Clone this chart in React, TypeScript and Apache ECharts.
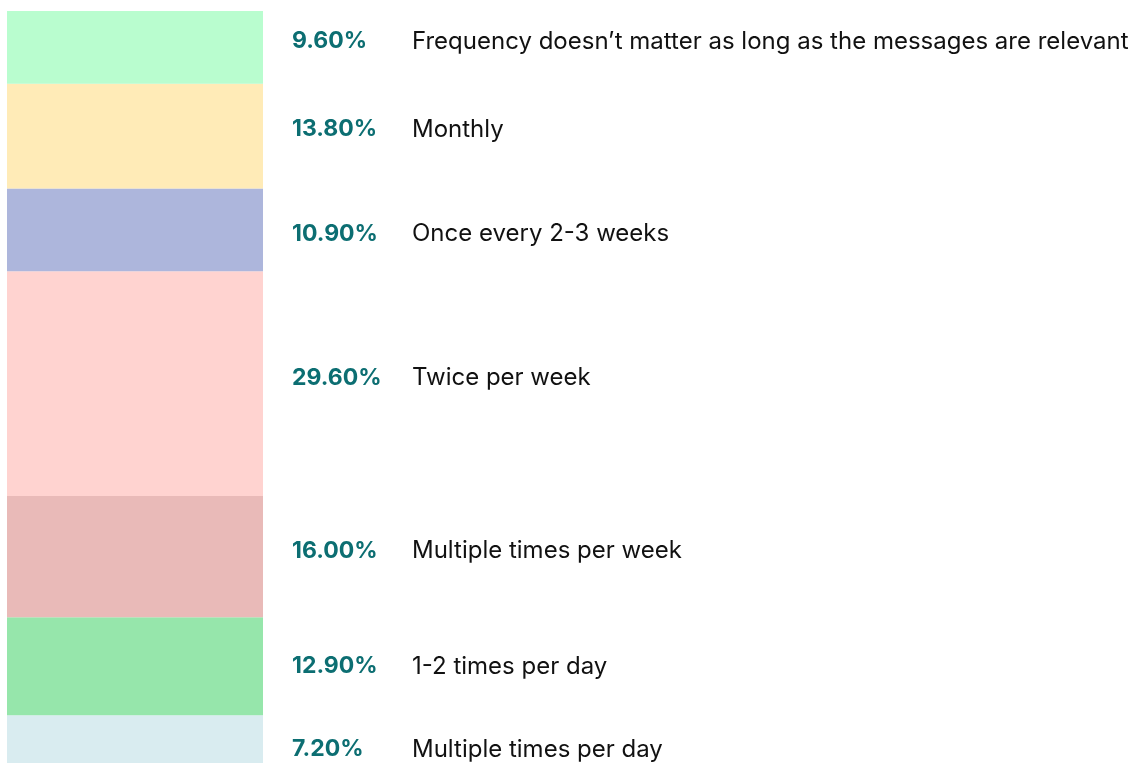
import React, { useEffect, useRef } from "react";
import * as echarts from "echarts";

// bottom to top
const categories = [
  "Multiple times per day",
  "1-2 times per day",
  "Multiple times per week",
  "Twice per week",
  "Once every 2-3 weeks",
  "Monthly",
  "Frequency doesn\u2019t matter as long as the messages are relevant",
];
const values = [7.2, 12.9, 16.0, 29.6, 10.9, 13.8, 9.6];
const colors = ["#d9ecf0", "#96e6ab", "#e9bab8", "#ffd3d0", "#adb6dc", "#ffebb7", "#b9fdcf"];
// small vertical nudges of the labels (px)
const labelNudge = [9, -1, -7, -7, 3, -8, -7];

export default function App() {
  const ref = useRef<HTMLDivElement>(null);
  useEffect(() => {
    if (!ref.current) return;
    const chart = echarts.init(ref.current, undefined, { renderer: "svg" });
    const font = "Inter";
    chart.setOption({
      animation: false,
      grid: { left: 7, top: 11, width: 256, bottom: 0 },
      xAxis: { type: "category", data: ["all"], show: false },
      // the bottom of the bar runs off the picture
      yAxis: { type: "value", min: 0.9, max: 100, show: false },
      series: values.map((v, i) => ({
        type: "bar",
        name: categories[i],
        stack: "total",
        barWidth: "100%",
        data: [v],
        itemStyle: { color: colors[i] },
        label: {
          show: true,
          position: "right",
          distance: 29,
          offset: [0, labelNudge[i]],
          formatter: () => `{p|${v.toFixed(2)}%}{n|${categories[i]}}`,
          rich: {
            p: { fontFamily: font, fontWeight: "bold", fontSize: 23, color: "#0c6e72", width: 120 },
            n: { fontFamily: font, fontSize: 24, color: "#111111" },
          },
        },
      })),
    });
    return () => chart.dispose();
  }, []);
  return (
    <div
      ref={ref}
      style={{ position: "fixed", left: 0, top: 0, width: 1137, height: 763 }}
    />
  );
}
